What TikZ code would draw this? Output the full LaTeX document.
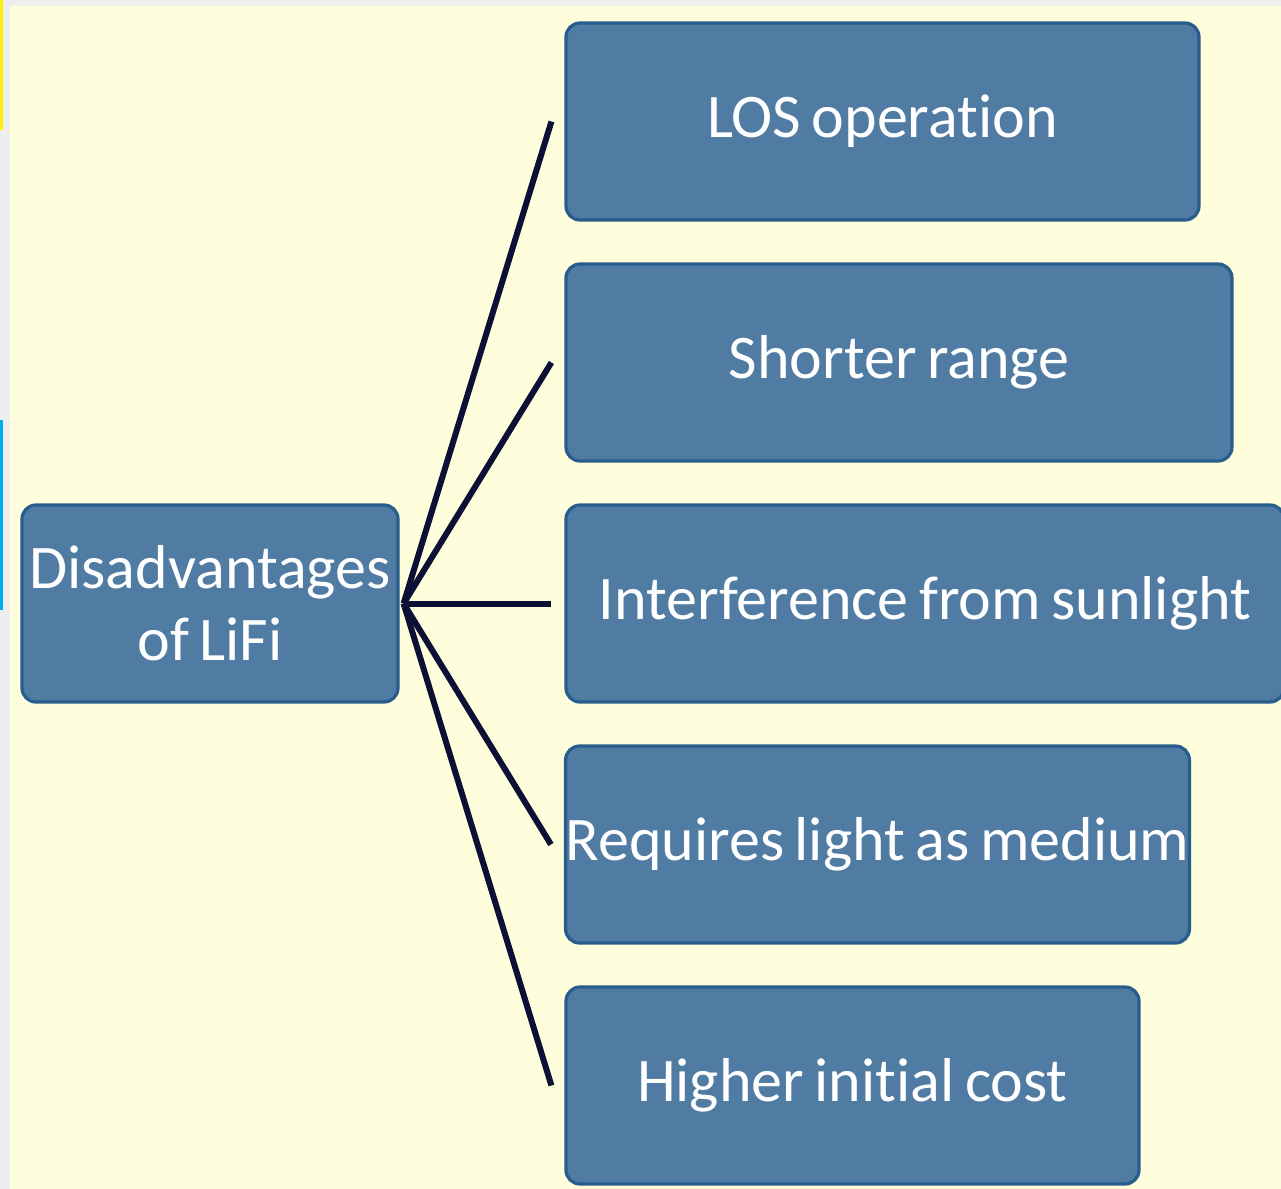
\documentclass[tikz,border=0pt]{standalone}
\usepackage{fontspec}
\setmainfont{Carlito}[Ligatures=NoCommon, WordSpace=0.75]
\usetikzlibrary{positioning}
\definecolor{cream}{RGB}{254,254,220}
\definecolor{boxblue}{RGB}{80,124,164}
\definecolor{boxedge}{RGB}{40,92,140}
\definecolor{linknavy}{RGB}{12,16,52}
\definecolor{framegray}{RGB}{238,238,238}

\begin{document}
\begin{tikzpicture}[
    x=0.5pt, y=-0.5pt,
    topic/.style={rectangle, rounded corners=7pt, draw=boxedge, line width=1.6pt,
        fill=boxblue, text=white, align=center, inner sep=0pt,
        font=\fontsize{31}{36}\selectfont},
    link/.style={draw=linknavy, line width=3pt}
]
    \useasboundingbox (0,0) rectangle (1281,1189);
    \fill[framegray] (0,0) rectangle (1281,1189);
    \fill[cream] (10,6) rectangle (1281,1189);
    \fill[yellow] (0,0) rectangle (3,130);
    \fill[cyan] (0,420) rectangle (3,610);

    \node[topic, minimum width=188pt, minimum height=98.5pt] (main) at (210,603.5)
        {Disadvantages\\of LiFi};

    \foreach \i/\cx/\cy/\w/\txt in {
        1/882.5/121.5/633/LOS operation,
        2/899/362.5/666/Shorter range,
        3/925/603.5/718/Interference from sunlight,
        4/877.5/844.5/623/Requires light as medium,
        5/852.5/1085.5/573/Higher initial cost} {
        \node[topic, minimum width=\w*0.5pt, minimum height=98.5pt] (d\i) at (\cx,\cy) {\txt};
        \draw[link] ([xshift=2pt]main.east) -- ([xshift=-6.5pt]d\i.west);
    }
\end{tikzpicture}
\end{document}
